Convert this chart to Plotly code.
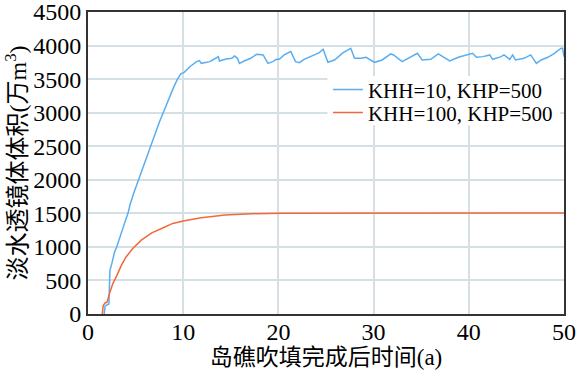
import plotly.graph_objects as go

# Blue series: KHH=10, KHP=500
t_blue = [1.7, 1.8, 2.2, 2.3, 2.5, 2.8, 3.0, 3.2, 3.5, 3.9, 4.2, 4.4, 4.8, 5.0, 5.3, 5.7, 6.0, 6.3, 6.6, 6.9, 7.2, 7.5, 7.9, 8.2, 8.6, 9.0, 9.4, 9.75, 10.1,
          10.7, 11.4, 11.7, 11.9, 12.8, 13.1, 13.7, 13.8, 14.5, 15.1, 15.4, 15.7, 15.9, 16.4, 17.1, 17.7, 18.4, 18.9, 19.4, 19.8,
          20.1, 20.6, 21.3, 21.8, 22.2, 22.7, 23.8, 24.3, 24.7, 25.2, 25.9, 26.8, 27.6, 28.0, 28.7, 29.2, 30.1, 30.9, 31.8, 32.1,
          33.0, 33.9, 34.6, 35.1, 36.0, 36.8, 37.3, 38.0, 38.9, 39.7, 40.4, 40.8, 41.5, 42.2, 42.5, 43.4, 43.7, 44.3, 44.6, 44.9,
          45.8, 46.5, 47.1, 47.6, 48.3, 49.0, 49.7, 49.85, 50.0]
v_blue = [0, 120, 150, 650, 750, 930, 990, 1080, 1230, 1380, 1500, 1620, 1800, 1880, 2000, 2130, 2250, 2390, 2500, 2620, 2750, 2860, 3000, 3110, 3250, 3380, 3500, 3580, 3600,
          3685, 3760, 3775, 3735, 3760, 3785, 3835, 3770, 3800, 3810, 3845, 3810, 3735, 3770, 3810, 3870, 3860, 3735, 3760, 3795,
          3795, 3860, 3910, 3760, 3745, 3795, 3860, 3895, 3945, 3750, 3785, 3895, 3960, 3810, 3810, 3825, 3750, 3785, 3875, 3860,
          3760, 3835, 3885, 3785, 3795, 3875, 3835, 3770, 3825, 3860, 3885, 3825, 3835, 3860, 3795, 3835, 3860, 3795, 3860, 3785,
          3810, 3860, 3735, 3785, 3825, 3885, 3960, 3960, 3835]

# Orange series: KHH=100, KHP=500
t_orange = [1.5, 1.6, 1.8, 2.0, 2.3, 2.6, 3.0, 3.5, 4.0, 4.7, 5.6, 6.7, 7.9, 8.9, 10.0, 11.9, 14.4, 17.2, 20.4, 25, 30, 35, 40, 45, 50]
v_orange = [0, 125, 165, 175, 325, 450, 565, 725, 850, 975, 1100, 1210, 1285, 1350, 1385, 1435, 1475, 1495, 1500, 1502, 1503, 1504, 1505, 1505, 1506]

x_ticks = [0, 10, 20, 30, 40, 50]
y_ticks = [0, 500, 1000, 1500, 2000, 2500, 3000, 3500, 4000, 4500]

serif = "Liberation Serif, Noto Sans CJK SC"

fig = go.Figure()
fig.add_trace(go.Scatter(x=t_blue, y=v_blue, mode="lines", name="KHH=10, KHP=500",
                         line=dict(color="#5aaef0", width=1.5), legend="legend"))
fig.add_trace(go.Scatter(x=t_orange, y=v_orange, mode="lines", name="KHH=100, KHP=500",
                         line=dict(color="#f2683a", width=1.5), legend="legend2"))

leg_common = dict(xanchor="left", x=0.504, yanchor="middle", bgcolor="rgba(0,0,0,0)",
                  font=dict(family=serif, size=21, color="black"), itemwidth=30)

# white backing box behind the legend entries
fig.add_shape(type="rect", xref="paper", yref="paper", x0=0.503, x1=0.992, y0=0.625, y1=0.788,
              fillcolor="white", line=dict(width=0), layer="above")

fig.update_layout(
    width=585, height=378,
    margin=dict(l=88, r=21, t=12, b=64, autoexpand=False),
    plot_bgcolor="white", paper_bgcolor="white",
    font=dict(family=serif, size=24, color="black"),
    showlegend=True,
    legend=dict(y=0.742, **leg_common),
    legend2=dict(y=0.666, **leg_common),
    xaxis=dict(range=[0, 50], tickvals=x_ticks, showgrid=True, gridcolor="#d5e0e5", gridwidth=1.5,
               showline=True, linecolor="#333333", linewidth=2, mirror=True, ticks="", zeroline=False,
               automargin=False, ticklabeloverflow="allow", tickfont=dict(family=serif, size=24),
               ticklabelstandoff=-5,
               title=dict(text="岛礁吹填完成后时间(a)", font=dict(family=serif, size=23), standoff=0)),
    yaxis=dict(range=[0, 4500], tickvals=y_ticks, showgrid=True, gridcolor="#d5e0e5", gridwidth=1.5,
               showline=True, linecolor="#333333", linewidth=2, mirror=True, ticks="", zeroline=False,
               automargin=False, ticklabeloverflow="allow", tickfont=dict(family=serif, size=24),
               title=dict(text="淡水透镜体体积(万m<sup>3</sup>)", font=dict(family=serif, size=24), standoff=0)),
)

fig.write_html("out.html", config={"displayModeBar": False},
               post_script="document.body.style.margin='0';")
